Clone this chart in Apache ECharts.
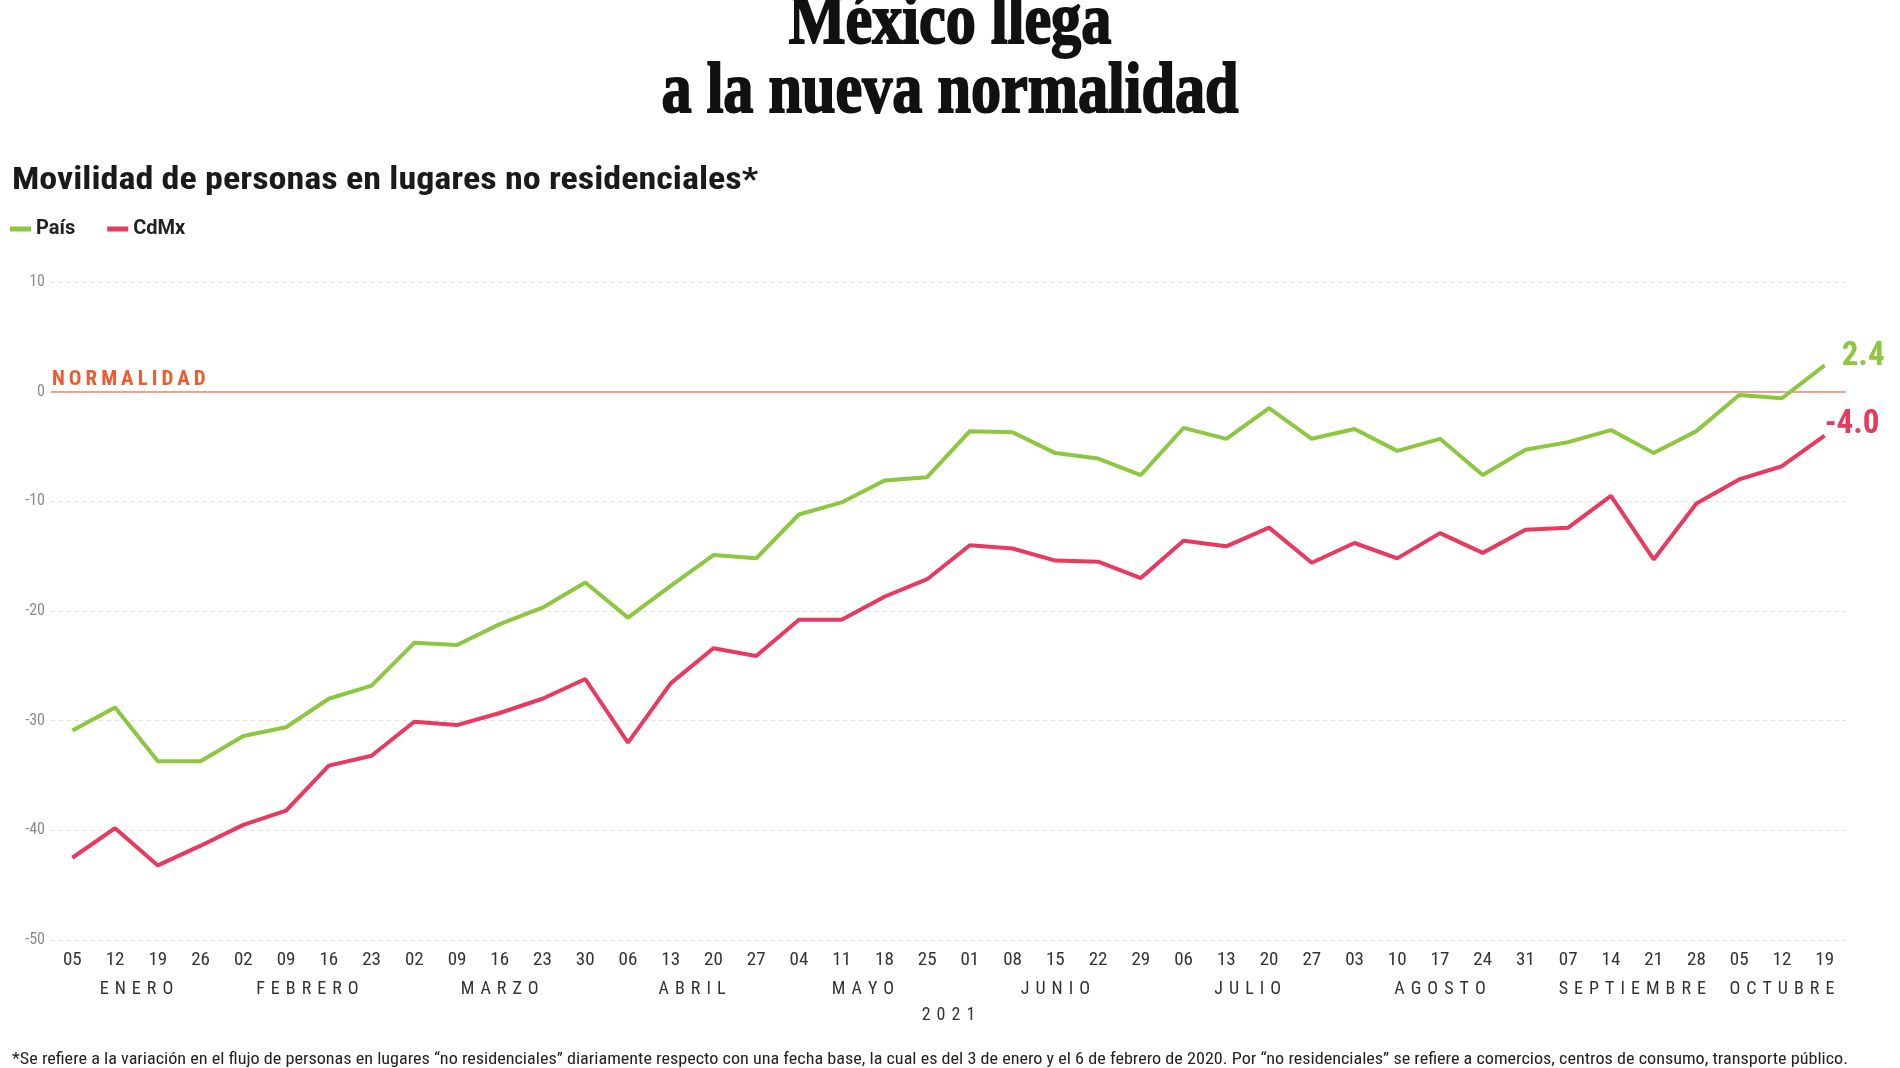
<!DOCTYPE html>
<html><head><meta charset="utf-8">
<script src="https://cdn.jsdelivr.net/npm/echarts/dist/echarts.min.js"></script>
<style>html,body{margin:0;padding:0;background:#fff}#c{width:1900px;height:1068px}</style>
</head><body><div id="c"></div>
<script>
// ---- data ----
const dates = ['2021-01-05','2021-01-12','2021-01-19','2021-01-26','2021-02-02','2021-02-09','2021-02-16','2021-02-23',
  '2021-03-02','2021-03-09','2021-03-16','2021-03-23','2021-03-30','2021-04-06','2021-04-13','2021-04-20','2021-04-27',
  '2021-05-04','2021-05-11','2021-05-18','2021-05-25','2021-06-01','2021-06-08','2021-06-15','2021-06-22','2021-06-29',
  '2021-07-06','2021-07-13','2021-07-20','2021-07-27','2021-08-03','2021-08-10','2021-08-17','2021-08-24','2021-08-31',
  '2021-09-07','2021-09-14','2021-09-21','2021-09-28','2021-10-05','2021-10-12','2021-10-19'];
const monthNames = ['ENERO','FEBRERO','MARZO','ABRIL','MAYO','JUNIO','JULIO','AGOSTO','SEPTIEMBRE','OCTUBRE'];
const pais = [-30.9,-28.8,-33.7,-33.7,-31.4,-30.6,-28.0,-26.8,-22.9,-23.1,-21.2,-19.7,-17.4,-20.6,-17.7,-14.9,-15.2,
  -11.2,-10.1,-8.1,-7.8,-3.6,-3.7,-5.6,-6.1,-7.6,-3.3,-4.3,-1.5,-4.3,-3.4,-5.4,-4.3,-7.6,-5.3,-4.6,-3.5,-5.6,-3.6,-0.3,-0.6,2.4];
const cdmx = [-42.5,-39.8,-43.2,-41.4,-39.5,-38.2,-34.1,-33.2,-30.1,-30.4,-29.3,-28.0,-26.2,-32.0,-26.6,-23.4,-24.1,
  -20.8,-20.8,-18.7,-17.1,-14.0,-14.3,-15.4,-15.5,-17.0,-13.6,-14.1,-12.4,-15.6,-13.8,-15.2,-12.9,-14.7,-12.6,-12.4,-9.5,-15.3,-10.2,-8.0,-6.8,-4.0];
const seriesNames = ['País','CdMx'];
const yearLabel = '2021';
const yMin = -50, yMax = 10, yStep = 10;
const titleLines = ['México llega','a la nueva normalidad'];
const subtitle = 'Movilidad de personas en lugares no residenciales*';
const refLabel = 'NORMALIDAD';
const footnote = '*Se refiere a la variación en el flujo de personas en lugares “no residenciales” diariamente respecto con una fecha base, la cual es del 3 de enero y el 6 de febrero de 2020. Por “no residenciales” se refiere a comercios, centros de consumo, transporte público.';

// ---- fonts ----
const mctx = document.createElement('canvas').getContext('2d');
function has(f){ const s='abcdefghijklmnopqrstuvwxyzABCDEFG0123';
  mctx.font='40px monospace'; const a=mctx.measureText(s).width;
  mctx.font="40px '"+f+"', monospace"; const b=mctx.measureText(s).width; return a!==b; }
function pick(list, fb){ for (const f of list) if (has(f)) return "'"+f+"'"; return fb; }
const COND = pick(['Roboto Condensed','DejaVu Sans Condensed'], 'Roboto');
const SERIF = pick(['Liberation Serif','DejaVu Serif Condensed'], 'serif');
function widthOf(text, font){ mctx.font = font; return mctx.measureText(text).width; }
const spaced = (s, sep) => s.split('').join(sep);

const GREEN = '#8DC63F', RED = '#E8395E';
const chart = echarts.init(document.getElementById('c'), null, {renderer:'canvas'});

const option = {
  backgroundColor: '#fff',
  animation: false,
  grid: { left: 51, top: 282, width: 1795, height: 658, containLabel: false, outerBoundsMode: 'none' },
  legend: {
    data: seriesNames, left: 10, top: 219, icon: 'rect', itemWidth: 21, itemHeight: 5, itemGap: 32, padding: 0,
    textStyle: { fontFamily: 'Roboto', fontSize: 20, fontWeight: 'bold', color: '#222' }
  },
  xAxis: {
    type: 'category', data: dates, boundaryGap: true,
    axisLine: { show: false }, axisTick: { show: false }, splitLine: { show: false },
    axisLabel: { interval: 0, margin: 11, fontFamily: COND, fontSize: 19, color: '#333', formatter: v => v.slice(8) }
  },
  yAxis: {
    type: 'value', min: yMin, max: yMax, interval: yStep,
    axisLine: { show: false }, axisTick: { show: false },
    axisLabel: { margin: 6, fontFamily: COND, fontSize: 16, color: '#8a8a8a' },
    splitLine: { show: true, lineStyle: { type: [4, 4], color: '#e0e0e0', width: 1 } }
  },
  series: [
    { name: seriesNames[0], type: 'line', data: pais, symbol: 'none', color: GREEN,
      lineStyle: { width: 4, color: GREEN }, z: 3,
      endLabel: { show: true, formatter: p => p.value.toFixed(1), distance: 8, offset: [9, -9],
        fontFamily: COND, fontSize: 33, fontWeight: 'bold', color: GREEN },
      markLine: { silent: true, symbol: ['none','none'], z: 2,
        lineStyle: { color: '#F2836B', width: 1.5, type: 'solid' },
        label: { show: true, position: 'insideStartTop', distance: [1, 1], formatter: spaced(refLabel, '\u2009'),
          fontFamily: COND, fontSize: 21, fontWeight: 'bold', color: '#EE5B2E' },
        data: [{ yAxis: 0 }] }
    },
    { name: seriesNames[1], type: 'line', data: cdmx, symbol: 'none', color: RED,
      lineStyle: { width: 4, color: RED }, z: 3,
      endLabel: { show: true, formatter: p => p.value.toFixed(1), distance: 8, offset: [-8, -11],
        fontFamily: COND, fontSize: 33, fontWeight: 'bold', color: RED }
    }
  ]
};
chart.setOption(option);

// ---- text elements placed from the chart's own scale ----
const x0 = chart.convertToPixel({xAxisIndex: 0}, 0);
const x1 = chart.convertToPixel({xAxisIndex: 0}, 1);
const step = x1 - x0;
const monthIdx = {};
dates.forEach((d, i) => { const m = +d.slice(5,7) - 1; (monthIdx[m] = monthIdx[m] || []).push(i); });
const graphics = [];
const LS = ' \u200A';
Object.keys(monthIdx).forEach(m => {
  const idx = monthIdx[m]; const mid = (idx[0] + idx[idx.length-1]) / 2;
  graphics.push({ type: 'text', x: x0 + mid * step, y: 989, silent: true,
    style: { text: spaced(monthNames[m], LS), font: '18px ' + COND, fill: '#333', textAlign: 'center', textVerticalAlign: 'middle' } });
});
const gridMid = (x0 + chart.convertToPixel({xAxisIndex:0}, dates.length-1)) / 2;
graphics.push({ type: 'text', x: gridMid, y: 1015, silent: true,
  style: { text: spaced(yearLabel, LS), font: '18px ' + COND, fill: '#333', textAlign: 'center', textVerticalAlign: 'middle' } });

const tFont = 'bold 72px ' + SERIF;
const tScale = 577 / widthOf(titleLines[1], tFont);
graphics.push({ type: 'text', x: 950, y: 24, scaleX: tScale, silent: true,
  style: { text: titleLines[0], font: tFont, fill: '#111', stroke: '#111', lineWidth: 2, textAlign: 'center', textVerticalAlign: 'middle' } });
graphics.push({ type: 'text', x: 950, y: 93, scaleX: tScale, silent: true,
  style: { text: titleLines[1], font: tFont, fill: '#111', stroke: '#111', lineWidth: 2, textAlign: 'center', textVerticalAlign: 'middle' } });

const sFont = 'bold 31px ' + COND;
graphics.push({ type: 'text', x: 12, y: 181, scaleX: 746 / widthOf(subtitle, sFont), silent: true,
  style: { text: subtitle, font: sFont, fill: '#1a1a1a', textAlign: 'left', textVerticalAlign: 'middle' } });

const fFont = '16px ' + COND;
graphics.push({ type: 'text', x: 12, y: 1060, scaleX: 1836 / widthOf(footnote, fFont), silent: true,
  style: { text: footnote, font: fFont, fill: '#222', textAlign: 'left', textVerticalAlign: 'middle' } });

chart.setOption({ graphic: graphics });
</script></body></html>
